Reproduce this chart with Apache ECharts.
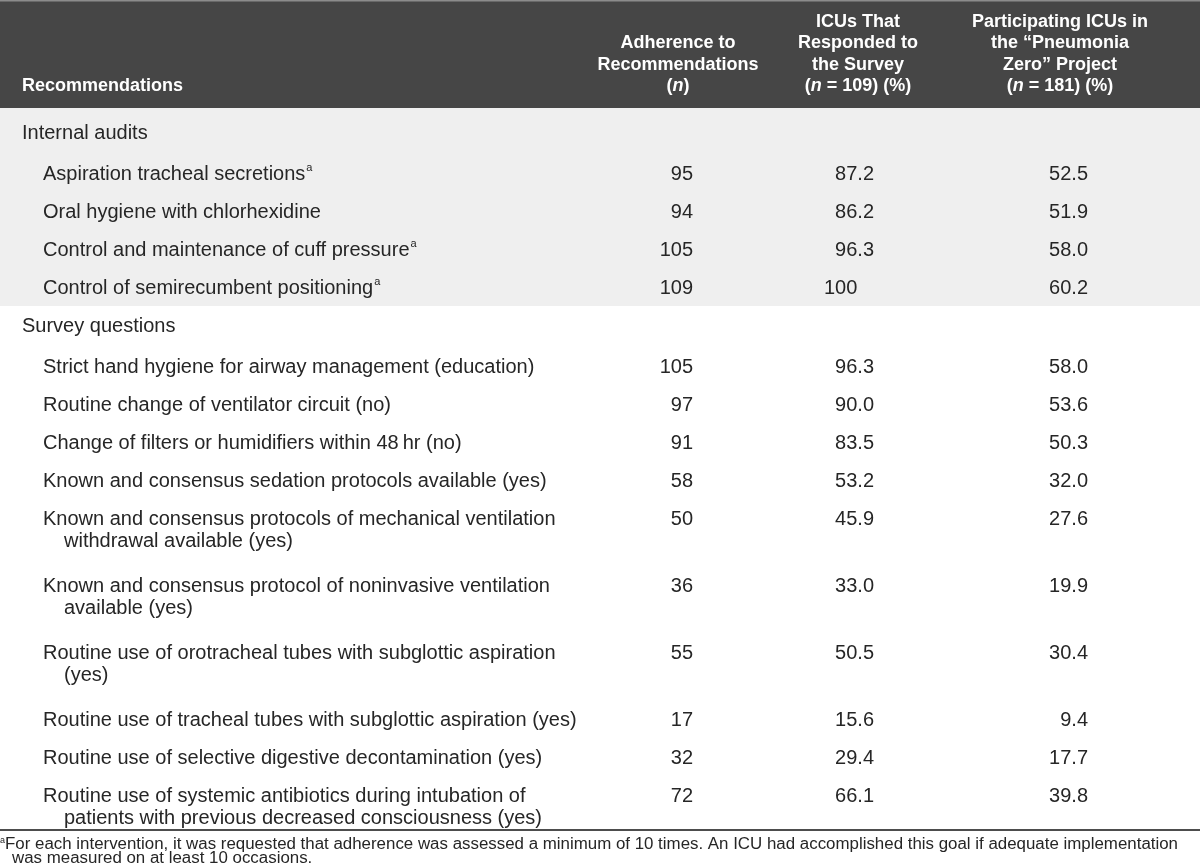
<!DOCTYPE html>
<html>
<head>
<meta charset="utf-8">
<script src="https://cdn.jsdelivr.net/npm/echarts@6/dist/echarts.min.js"></script>
<style>
html,body{margin:0;padding:0;background:#fff;}
#chart{width:1200px;height:864px;}
</style>
</head>
<body>
<div id="chart"></div>
<script>
// ---------------- DATA ----------------
// In header lines, "{i|n}" marks an italic n.
const headerCol1 = ['Recommendations'];
const headerCol2 = ['Adherence to', 'Recommendations', '({i|n})'];
const headerCol3 = ['ICUs That', 'Responded to', 'the Survey', '({i|n} = 109) (%)'];
const headerCol4 = ['Participating ICUs in', 'the \u201CPneumonia', 'Zero\u201D Project', '({i|n} = 181) (%)'];

const sectionLabels = ['Internal audits', 'Survey questions'];

const rowSection = [0, 0, 0, 0, 1, 1, 1, 1, 1, 1, 1, 1, 1, 1];

const rowLabels = [
  ['Aspiration tracheal secretions'],
  ['Oral hygiene with chlorhexidine'],
  ['Control and maintenance of cuff pressure'],
  ['Control of semirecumbent positioning'],
  ['Strict hand hygiene for airway management (education)'],
  ['Routine change of ventilator circuit (no)'],
  ['Change of filters or humidifiers within 48\u2009hr (no)'],
  ['Known and consensus sedation protocols available (yes)'],
  ['Known and consensus protocols of mechanical ventilation', 'withdrawal available (yes)'],
  ['Known and consensus protocol of noninvasive ventilation', 'available (yes)'],
  ['Routine use of orotracheal tubes with subglottic aspiration', '(yes)'],
  ['Routine use of tracheal tubes with subglottic aspiration (yes)'],
  ['Routine use of selective digestive decontamination (yes)'],
  ['Routine use of systemic antibiotics during intubation of', 'patients with previous decreased consciousness (yes)']
];

const rowFootnote = [true, false, true, true, false, false, false, false, false, false, false, false, false, false];

const adherenceN = [95, 94, 105, 109, 105, 97, 91, 58, 50, 36, 55, 17, 32, 72];
const pctSurvey = [87.2, 86.2, 96.3, 100, 96.3, 90.0, 83.5, 53.2, 45.9, 33.0, 50.5, 15.6, 29.4, 66.1];
const pctProject = [52.5, 51.9, 58.0, 60.2, 58.0, 53.6, 50.3, 32.0, 27.6, 19.9, 30.4, 9.4, 17.7, 39.8];

const footnoteLines = [
  'For each intervention, it was requested that adherence was assessed a minimum of 10 times. An ICU had accomplished this goal if adequate implementation',
  'was measured on at least 10 occasions.'
];

// ---------------- STYLE / LAYOUT ----------------
const W = 1200, H = 864;
const FONT = "'Liberation Sans', Arial, Helvetica, sans-serif";
const BODY_SIZE = 20, HEAD_SIZE = 18, FOOT_SIZE = 16, SUP_SIZE = 11;
const TEXT_COLOR = '#262626';
const HEADER_BG = '#464646';
const BAND_BG = '#efefef';

const headerBottom = 108;
const headerLastLineY = 86, headerLineGap = 21.3;
const labelX = 22, itemX = 43, contX = 64;
const col2Right = 693, col3Right = 874, col4Right = 1088;
const col2Center = 678, col3Center = 858, col4Center = 1060;
const firstY = 133, sectionGap = 41, rowPitch = 38, lineGap = 22, extraLineAdvance = 29;
const ruleOffset = 11, footOffset = 16, footGap = 14, footTargetWidth = 1173, footX = 5;

const ctx = document.createElement('canvas').getContext('2d');
function measure(text, size, weight) {
  ctx.font = (weight || 'normal') + ' ' + size + 'px ' + FONT;
  return ctx.measureText(text).width;
}
function fmt(v) { return v === 100 ? '100' : v.toFixed(1); }

// compute vertical layout
const sectionY = [];
const rowY = [];
let yy = firstY;
let lastSection = -1;
for (let i = 0; i < rowLabels.length; i++) {
  if (rowSection[i] !== lastSection) {
    lastSection = rowSection[i];
    sectionY[lastSection] = yy;
    yy += sectionGap;
  }
  rowY[i] = yy;
  yy += rowPitch + extraLineAdvance * (rowLabels[i].length - 1);
}
const lastRow = rowLabels.length - 1;
const ruleY = rowY[lastRow] + lineGap * (rowLabels[lastRow].length - 1) + ruleOffset;
const footY0 = ruleY + footOffset;
const bandEnd = sectionY[1] - 20;

// ---------------- CHART ----------------
const chart = echarts.init(document.getElementById('chart'), null, {renderer: 'canvas'});

function txt(api, x, y, text, opts) {
  const p = api.coord([x, y]);
  const size = opts.size || BODY_SIZE;
  const fill = opts.fill || TEXT_COLOR;
  const weight = opts.weight || 'normal';
  return {
    type: 'text',
    x: p[0], y: p[1],
    scaleX: opts.scaleX || 1,
    style: {
      x: 0, y: 0,
      text: text,
      fill: fill,
      fontSize: size,
      fontFamily: FONT,
      fontWeight: weight,
      align: opts.align || 'left',
      verticalAlign: 'middle',
      rich: {
        i: {fontStyle: 'italic', fontSize: size, fontFamily: FONT, fontWeight: weight, fill: fill}
      }
    }
  };
}
function rect(api, x0, y0, x1, y1, color) {
  const a = api.coord([x0, y0]), b = api.coord([x1, y1]);
  return {type: 'rect', shape: {x: a[0], y: a[1], width: b[0] - a[0], height: b[1] - a[1]}, style: {fill: color}};
}

const footScale = footTargetWidth / measure(footnoteLines[0], FOOT_SIZE);

function renderBackground(params, api) {
  const children = [];
  children.push(rect(api, 0, 0, W, headerBottom, HEADER_BG));
  children.push(rect(api, 0, 0, W, 1.5, '#8c8c8c'));
  children.push(rect(api, 0, headerBottom, W, bandEnd, BAND_BG));
  children.push(rect(api, 0, ruleY, W, ruleY + 2, '#4d4d4d'));
  const hlines = (lines, x, align) => {
    const n = lines.length;
    lines.forEach((t, k) => {
      const y = headerLastLineY - (n - 1 - k) * headerLineGap;
      children.push(txt(api, x, y, t, {size: HEAD_SIZE, weight: 'bold', fill: '#ffffff', align: align}));
    });
  };
  hlines(headerCol1, labelX, 'left');
  hlines(headerCol2, col2Center, 'center');
  hlines(headerCol3, col3Center, 'center');
  hlines(headerCol4, col4Center, 'center');
  sectionLabels.forEach((s, k) => children.push(txt(api, labelX, sectionY[k], s, {})));
  children.push(txt(api, 0, footY0 - 4, 'a', {size: 9}));
  footnoteLines.forEach((t, k) => {
    children.push(txt(api, footX + (k ? 7 : 0), footY0 + k * footGap, t, {size: FOOT_SIZE, scaleX: footScale}));
  });
  return {type: 'group', children: children};
}

function renderRow(params, api) {
  const i = params.dataIndex;
  const y = rowY[i];
  const children = [];
  rowLabels[i].forEach((t, k) => {
    children.push(txt(api, k === 0 ? itemX : contX, y + k * lineGap, t, {}));
  });
  if (rowFootnote[i]) {
    const w = measure(rowLabels[i][0], BODY_SIZE);
    children.push(txt(api, itemX + w + 1, y - 6, 'a', {size: SUP_SIZE}));
  }
  const decPad = measure('.0', BODY_SIZE);
  children.push(txt(api, col2Right, y, String(adherenceN[i]), {align: 'right'}));
  const s3 = fmt(pctSurvey[i]);
  children.push(txt(api, col3Right - (s3.indexOf('.') < 0 ? decPad : 0), y, s3, {align: 'right'}));
  const s4 = fmt(pctProject[i]);
  children.push(txt(api, col4Right - (s4.indexOf('.') < 0 ? decPad : 0), y, s4, {align: 'right'}));
  return {type: 'group', children: children};
}

chart.setOption({
  animation: false,
  backgroundColor: '#ffffff',
  grid: {left: 0, right: 0, top: 0, bottom: 0},
  xAxis: {type: 'value', min: 0, max: W, show: false},
  yAxis: {type: 'value', min: 0, max: H, inverse: true, show: false},
  series: [
    {type: 'custom', silent: true, clip: false, renderItem: renderBackground, data: [[0, 0]], z: 1},
    {type: 'custom', silent: true, clip: false, renderItem: renderRow,
     data: rowLabels.map((_, i) => [i, rowY[i]]), z: 2}
  ]
});
</script>
</body>
</html>
